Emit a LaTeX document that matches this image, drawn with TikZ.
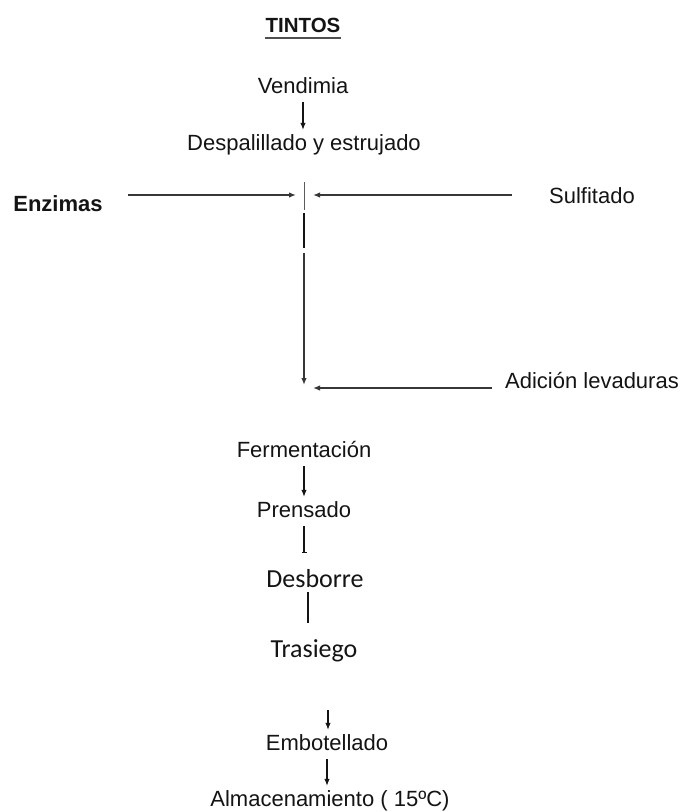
\documentclass[tikz,border=0pt]{standalone}
\usepackage{fontspec}
\setmainfont{Liberation Sans}
\newfontfamily\calibfont{Carlito}
\usetikzlibrary{arrows.meta}
\definecolor{VinoInk}{HTML}{141414}
\tikzset{paso/.style={inner sep=0pt,text height=16pt,text depth=5pt,
font=\fontsize{22}{24}\selectfont,text=VinoInk,anchor=base},
pasocal/.style={paso,font=\calibfont\fontsize{26}{28}\selectfont},
flow/.style={-{Latex[length=7pt,width=5.5pt]},line width=1.1pt,draw=VinoInk,
shorten >=4pt,shorten <=4pt},
feed/.style={-{Latex[length=7pt,width=5.5pt]},line width=1.4pt,draw=VinoInk!85}}
\begin{document}
\begin{tikzpicture}[x=1pt,y=-1pt]
\useasboundingbox[fill=white](0,0) rectangle (683,812);
\node[paso,font=\fontsize{20.5}{22}\bfseries](tintos) at (303,32){TINTOS};
\draw[line width=2pt,VinoInk!75]([yshift=-6pt]tintos.base west)--([yshift=-6pt]tintos.base east);
\node[paso](vend) at (303,93){Vendimia};
\node[paso](desp) at (304,150){Despalillado y estrujado};
\node[paso,font=\fontsize{22}{24}\bfseries](enz) at (58,211){Enzimas};
\node[paso](sulf) at (592,203){Sulfitado};
\node[paso](adic) at (592,388){Adición levaduras};
\node[paso](ferm) at (304,457){Fermentación};
\node[paso](prens) at (304,517){Prensado};
\node[pasocal](desb) at (315,587){Desborre};
\node[pasocal](tras) at (314,657){Trasiego};
\node[paso](embot) at (327,750){Embotellado};
\node[paso](alm) at (330,806){Almacenamiento ( 15ºC)};
% tronco central
\coordinate(c1) at (304,182);\coordinate(c2) at (304,210);
\coordinate(c3) at (304,213);\coordinate(c4) at (304,248);
\coordinate(c5) at (304,253);\coordinate(c6) at (304,385);
\coordinate(jEnz) at (296,195);\coordinate(jSulf) at (313,195);
\coordinate(jLev) at (313,388);\coordinate(t1) at (328,710);
\draw[flow](vend.south)--(vend.south |- desp.north);
\draw[line width=1pt,VinoInk!70](c1)--(c2);
\draw[line width=1.6pt,VinoInk](c3)--(c4);
\draw[feed](c5)--(c6);
\draw[feed,shorten <=25pt](enz.east |- jEnz)--(jEnz);
\draw[feed,shorten <=37pt](sulf.west |- jSulf)--(jSulf);
\draw[feed,shorten <=13pt](adic.west |- jLev)--(jLev);
\draw[flow](ferm.south)--(ferm.south |- prens.north);
\draw[flow,-{Bar[width=5pt]},shorten >=18pt](prens.south)--(prens.south |- desb.north);
\draw[line width=1.5pt,draw=VinoInk,shorten >=18pt]([xshift=-7pt]desb.south)--([xshift=-7pt]desb.south |- tras.north);
\draw[flow,shorten <=0pt](t1)--(t1 |- embot.north);
\draw[flow](embot.south)--(embot.south |- alm.north);
\end{tikzpicture}
\end{document}
